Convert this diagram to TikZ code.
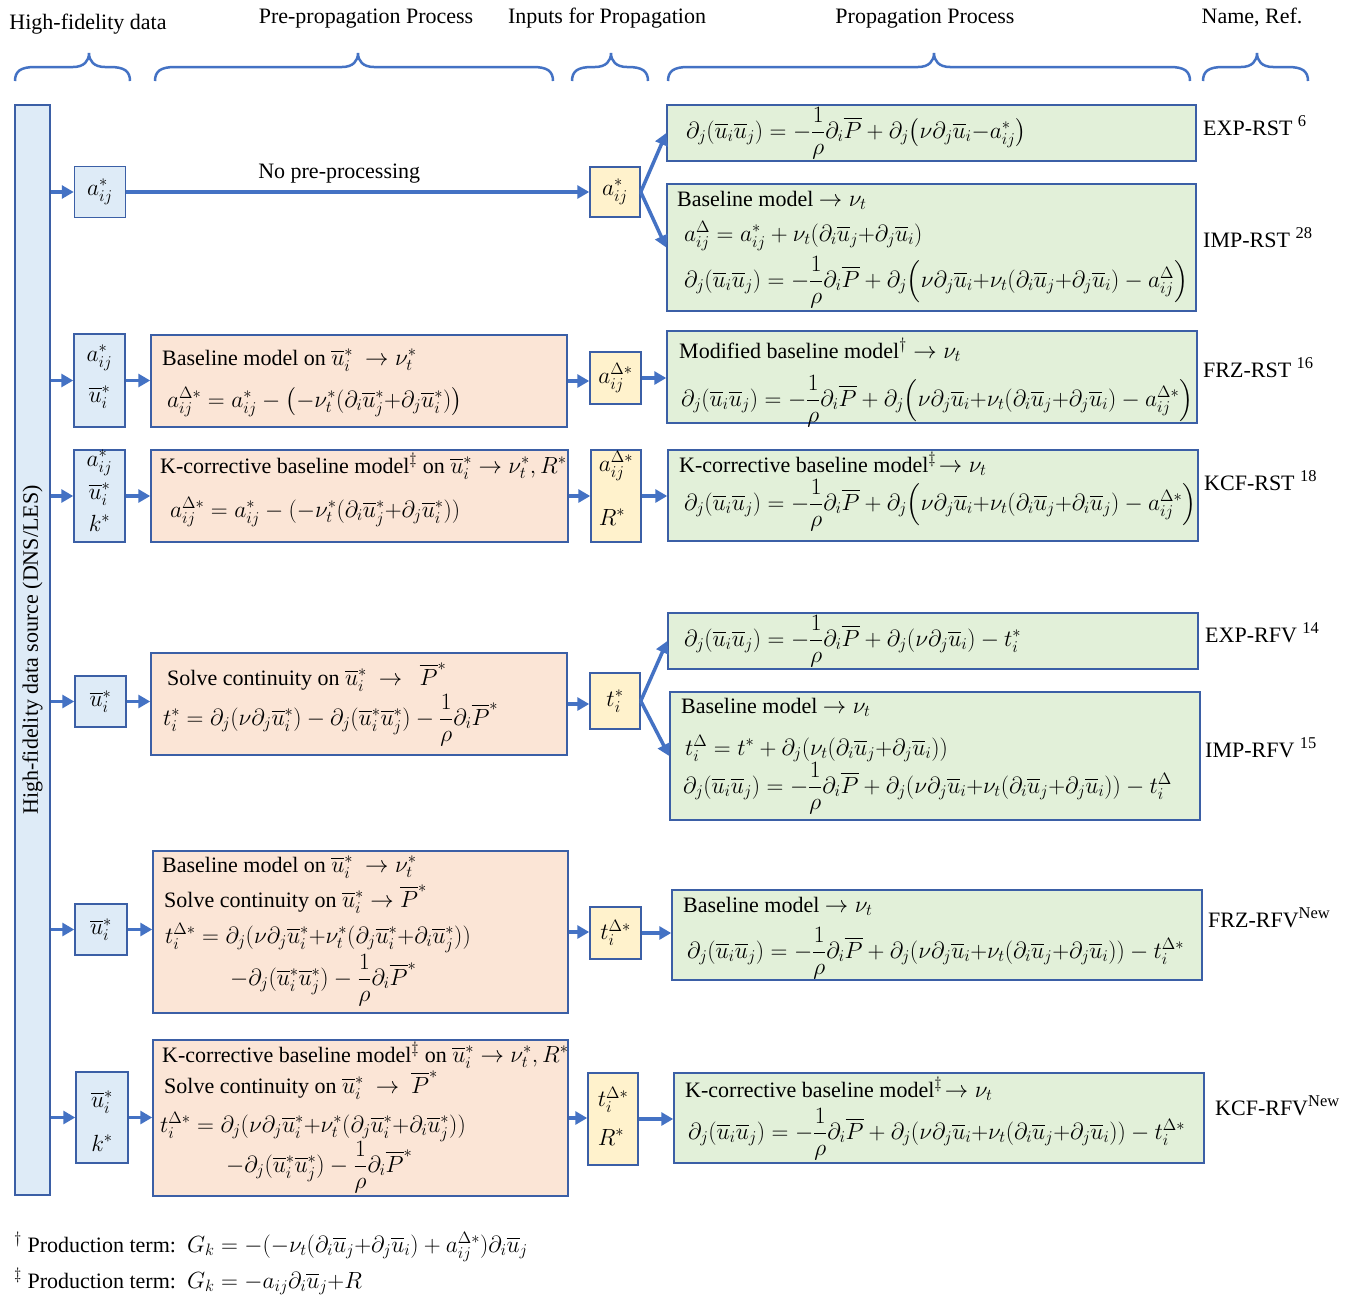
\RequirePackage{fix-cm}
\documentclass[tikz,border=0pt]{standalone}
\usepackage{amsmath,amssymb}
\usepackage[no-math]{fontspec}
\setmainfont{Liberation Serif}
\DeclareMathSizes{22}{23.4}{16.5}{12}
\usetikzlibrary{arrows.meta}
\definecolor{lineblue}{HTML}{4472C4}
\definecolor{edgeblue}{HTML}{3B5FA6}
\definecolor{bluefill}{HTML}{DEEBF7}
\definecolor{orangefill}{HTML}{FBE5D6}
\definecolor{yellowfill}{HTML}{FFF2CC}
\definecolor{greenfill}{HTML}{E2F0D9}
\newcommand{\ubr}{\overline{u}}
\newcommand{\Pbr}{\overline{P}}
\begin{document}
\begin{tikzpicture}[x=1pt, y=-1pt,
	every node/.style={font=\fontsize{22}{26}\selectfont, inner sep=0pt},
	box/.style={draw=edgeblue, line width=1.5pt},
	srcbox/.style={box, fill=bluefill},
	prebox/.style={box, fill=orangefill},
	inbox/.style={box, fill=yellowfill},
	propbox/.style={box, fill=greenfill},
	flow/.style={draw=lineblue, line width=3.5pt, -{Triangle[length=12pt, width=13pt]}},
	bracket/.style={draw=lineblue, line width=2.5pt}]
	\fill[white] (0,0) rectangle (1357,1299);
	\useasboundingbox (0,0) rectangle (1357,1299);
	% column headers and braces
	\node[anchor=base] (h1) at (88,29) {High-fidelity data};
	\node[anchor=base] (h2) at (366,23) {Pre-propagation Process};
	\node[anchor=base] (h3) at (607,23) {Inputs for Propagation};
	\node[anchor=base] (h4) at (925,23) {Propagation Process};
	\node[anchor=base] (h5) at (1252,23) {Name, Ref.};
	\foreach \xa/\xt/\xb in {15/89/130, 155/358/553, 572/611/648, 668/934/1190, 1203/1257/1308}
		\draw[bracket] (\xa,81) .. controls (\xa,71) and (\xa+6,67) .. (\xa+20,67) -- (\xt-16,67) .. controls (\xt-5,67) and (\xt,61) .. (\xt,53) .. controls (\xt,61) and (\xt+5,67) .. (\xt+16,67) -- (\xb-20,67) .. controls (\xb-6,67) and (\xb,71) .. (\xb,81);
	% data source
	\node[srcbox, minimum width=35, minimum height=1090] (src) at (32.5,650) {};
	\node[rotate=90] (srctext) at (src.center) {High-fidelity data source (DNS/LES)};
	% row 1: EXP-RST / IMP-RST
	\node[srcbox, minimum width=51, minimum height=51] (b1) at (100,192) {$a^*_{ij}$};
	\node[inbox, minimum width=50, minimum height=50] (i1) at (615,192) {$a^*_{ij}$};
	\node[propbox, minimum width=529, minimum height=56] (g1) at (931.5,133) {};
	\node[anchor=west] (g1a) at (686,133) {$\partial_j(\ubr_i\ubr_j) = -\dfrac{1}{\rho}\partial_i\Pbr + \partial_j\bigl(\nu\partial_j\ubr_i{-}a^*_{ij}\bigr)$};
	\node[propbox, minimum width=529, minimum height=127] (g2) at (931.5,247.5) {};
	\node[anchor=base west] (g2a) at (677,206) {Baseline model $\rightarrow \nu_t$};
	\node[anchor=base west] (g2b) at (684,241) {$a^\Delta_{ij} = a^*_{ij} + \nu_t(\partial_i\ubr_j{+}\partial_j\ubr_i)$};
	\node[anchor=base west] (g2c) at (684,287) {$\partial_j(\ubr_i\ubr_j) = -\dfrac{1}{\rho}\partial_i\Pbr + \partial_j\Bigl(\nu\partial_j\ubr_i{+}\nu_t(\partial_i\ubr_j{+}\partial_j\ubr_i) - a^\Delta_{ij}\Bigr)$};
	% row 2: FRZ-RST
	\node[srcbox, minimum width=51, minimum height=93] (b2) at (99.5,380.5) {};
	\node (b2a) at (99.5,358) {$a^*_{ij}$};
	\node (b2b) at (99.5,397) {$\ubr^*_i$};
	\node[prebox, minimum width=416, minimum height=92] (o2) at (359,381) {};
	\node[anchor=base west] (o2a) at (162,365) {Baseline model on $\ubr^*_i\ \rightarrow \nu^*_t$};
	\node[anchor=base west] (o2b) at (167,407) {$a^{\Delta*}_{ij} = a^*_{ij} - \bigl(-\nu^*_t(\partial_i\ubr^*_j{+}\partial_j\ubr^*_i)\bigr)$};
	\node[inbox, minimum width=51, minimum height=52] (i2) at (615.5,378) {$a^{\Delta*}_{ij}$};
	\node[propbox, minimum width=530, minimum height=92] (g3) at (932,377) {};
	\node[anchor=base west] (g3a) at (679,358) {Modified baseline model$^\dagger \rightarrow \nu_t$};
	\node[anchor=base west] (g3b) at (681,406) {$\partial_j(\ubr_i\ubr_j) = -\dfrac{1}{\rho}\partial_i\Pbr + \partial_j\Bigl(\nu\partial_j\ubr_i{+}\nu_t(\partial_i\ubr_j{+}\partial_j\ubr_i) - a^{\Delta*}_{ij}\Bigr)$};
	% row 3: KCF-RST
	\node[srcbox, minimum width=51, minimum height=92] (b3) at (99.5,496) {};
	\node (b3a) at (99.5,463) {$a^*_{ij}$};
	\node (b3b) at (99.5,494) {$\ubr^*_i$};
	\node (b3c) at (99.5,523) {$k^*$};
	\node[prebox, minimum width=417, minimum height=92] (o3) at (359.5,496) {};
	\node[anchor=base west] (o3a) at (160,473) {K-corrective baseline model$^\ddagger$ on $\ubr^*_i \rightarrow \nu^*_t, R^*$};
	\node[anchor=base west] (o3b) at (170,517) {$a^{\Delta*}_{ij} = a^*_{ij} - (-\nu^*_t(\partial_i\ubr^*_j{+}\partial_j\ubr^*_i))$};
	\node[inbox, minimum width=50, minimum height=92] (i3) at (616,496) {};
	\node (i3a) at (616,466) {$a^{\Delta*}_{ij}$};
	\node (i3b) at (612,517) {$R^*$};
	\node[propbox, minimum width=530, minimum height=91] (g4) at (933,495.5) {};
	\node[anchor=base west] (g4a) at (679,472) {K-corrective baseline model$^\ddagger\!\rightarrow \nu_t$};
	\node[anchor=base west] (g4b) at (684,510) {$\partial_j(\ubr_i\ubr_j) = -\dfrac{1}{\rho}\partial_i\Pbr + \partial_j\Bigl(\nu\partial_j\ubr_i{+}\nu_t(\partial_i\ubr_j{+}\partial_i\ubr_j) - a^{\Delta*}_{ij}\Bigr)$};
	% row 4: EXP-RFV / IMP-RFV
	\node[srcbox, minimum width=51, minimum height=51] (b4) at (100.5,701.5) {$\ubr^*_i$};
	\node[prebox, minimum width=416, minimum height=102] (o4) at (359,704) {};
	\node[anchor=base west] (o4a) at (167,685) {Solve continuity on $\ubr^*_i\ \rightarrow\ \ \Pbr^*$};
	\node[anchor=base west] (o4b) at (163,725) {$t^*_i = \partial_j(\nu\partial_j\ubr^*_i) - \partial_j(\ubr^*_i\ubr^*_j) - \dfrac{1}{\rho}\partial_i\Pbr^*$};
	\node[inbox, minimum width=50, minimum height=56] (i4) at (615,701) {$t^*_i$};
	\node[propbox, minimum width=530, minimum height=56] (g5) at (933,641) {};
	\node[anchor=west] (g5a) at (684,641) {$\partial_j(\ubr_i\ubr_j) = -\dfrac{1}{\rho}\partial_i\Pbr + \partial_j(\nu\partial_j\ubr_i) - t^*_i$};
	\node[propbox, minimum width=530, minimum height=128] (g6) at (935,756) {};
	\node[anchor=base west] (g6a) at (681,713) {Baseline model $\rightarrow \nu_t$};
	\node[anchor=base west] (g6b) at (685,755) {$t^\Delta_i = t^* + \partial_j(\nu_t(\partial_i\ubr_j{+}\partial_j\ubr_i))$};
	\node[anchor=base west] (g6c) at (683,793) {$\partial_j(\ubr_i\ubr_j) = -\dfrac{1}{\rho}\partial_i\Pbr + \partial_j(\nu\partial_j\ubr_i{+}\nu_t(\partial_i\ubr_j{+}\partial_j\ubr_i)) - t^\Delta_i$};
	% row 5: FRZ-RFV
	\node[srcbox, minimum width=52, minimum height=51] (b5) at (101,929.5) {$\ubr^*_i$};
	\node[prebox, minimum width=415, minimum height=162] (o5) at (360.5,932) {};
	\node[anchor=base west] (o5a) at (162,872) {Baseline model on $\ubr^*_i\ \rightarrow \nu^*_t$};
	\node[anchor=base west] (o5b) at (164,907) {Solve continuity on $\ubr^*_i \rightarrow \Pbr^*$};
	\node[anchor=base west] (o5c) at (165,943) {$t^{\Delta*}_i = \partial_j(\nu\partial_j\ubr^*_i{+}\nu^*_t(\partial_j\ubr^*_i{+}\partial_i\ubr^*_j))$};
	\node[anchor=base west] (o5d) at (230,985) {$-\partial_j(\ubr^*_i\ubr^*_j) - \dfrac{1}{\rho}\partial_i\Pbr^*$};
	\node[inbox, minimum width=51, minimum height=52] (i5) at (615.5,933) {$t^{\Delta*}_i$};
	\node[propbox, minimum width=530, minimum height=90] (g7) at (937,935) {};
	\node[anchor=base west] (g7a) at (683,912) {Baseline model $\rightarrow \nu_t$};
	\node[anchor=base west] (g7b) at (687,958) {$\partial_j(\ubr_i\ubr_j) = -\dfrac{1}{\rho}\partial_i\Pbr + \partial_j(\nu\partial_j\ubr_i{+}\nu_t(\partial_i\ubr_j{+}\partial_j\ubr_i)) - t^{\Delta*}_i$};
	% row 6: KCF-RFV
	\node[srcbox, minimum width=52, minimum height=91] (b6) at (102,1117.5) {};
	\node (b6a) at (102,1102) {$\ubr^*_i$};
	\node (b6b) at (102,1143) {$k^*$};
	\node[prebox, minimum width=415, minimum height=156] (o6) at (360.5,1118) {};
	\node[anchor=base west] (o6a) at (162,1062) {K-corrective baseline model$^\ddagger$ on $\ubr^*_i \rightarrow \nu^*_t, R^*$};
	\node[anchor=base west] (o6b) at (164,1093) {Solve continuity on $\ubr^*_i\ \rightarrow\ \Pbr^*$};
	\node[anchor=base west] (o6c) at (160,1132) {$t^{\Delta*}_i = \partial_j(\nu\partial_j\ubr^*_i{+}\nu^*_t(\partial_j\ubr^*_i{+}\partial_i\ubr^*_j))$};
	\node[anchor=base west] (o6d) at (226,1172) {$-\partial_j(\ubr^*_i\ubr^*_j) - \dfrac{1}{\rho}\partial_i\Pbr^*$};
	\node[inbox, minimum width=50, minimum height=92] (i6) at (613,1119) {};
	\node (i6a) at (613,1100) {$t^{\Delta*}_i$};
	\node (i6b) at (611,1137) {$R^*$};
	\node[propbox, minimum width=530, minimum height=90] (g8) at (939,1118) {};
	\node[anchor=base west] (g8a) at (685,1097) {K-corrective baseline model$^\ddagger\!\rightarrow \nu_t$};
	\node[anchor=base west] (g8b) at (688,1139) {$\partial_j(\ubr_i\ubr_j) = -\dfrac{1}{\rho}\partial_i\Pbr + \partial_j(\nu\partial_j\ubr_i{+}\nu_t(\partial_i\ubr_j{+}\partial_j\ubr_i)) - t^{\Delta*}_i$};
	% names and references
	\node[anchor=base west] (n1) at (1203,135) {EXP-RST \textsuperscript{6}};
	\node[anchor=base west] (n2) at (1203,247) {IMP-RST \textsuperscript{28}};
	\node[anchor=base west] (n3) at (1203,377) {FRZ-RST \textsuperscript{16}};
	\node[anchor=base west] (n4) at (1204,490) {KCF-RST \textsuperscript{18}};
	\node[anchor=base west] (n5) at (1205,642) {EXP-RFV \textsuperscript{14}};
	\node[anchor=base west] (n6) at (1205,757) {IMP-RFV \textsuperscript{15}};
	\node[anchor=base west] (n7) at (1208,927) {FRZ-RFV\textsuperscript{New}};
	\node[anchor=base west] (n8) at (1215,1115) {KCF-RFV\textsuperscript{New}};
	% connectors
	\foreach \b in {b1,b2,b3,b4,b5,b6}
		\draw[flow] (src.east |- \b.west) -- (\b.west);
	\draw[flow] (b1.east) -- node[pos=0.46, anchor=base, yshift=14pt] (nopre) {No pre-processing} (i1.west);
	\draw[flow] (i1.east) -- (g1.west);
	\draw[flow] (i1.east) -- (g2.west);
	\draw[flow] (i4.east) -- (g5.west);
	\draw[flow] (i4.east) -- (g6.west);
	\foreach \a/\b in {b2/o2, o2/i2, i2/g3, b3/o3, o3/i3, i3/g4, b4/o4, o4/i4, b5/o5, o5/i5, i5/g7, b6/o6, o6/i6, i6/g8}
		\draw[flow] (\a.east) -- (\a.east -| \b.west);
	% footnotes
	\node[anchor=base west] (fn1) at (14,1252) {$^\dagger$ Production term:\ \ $G_k = -(-\nu_t(\partial_i\ubr_j{+}\partial_j\ubr_i) + a^{\Delta*}_{ij})\partial_i\ubr_j$};
	\node[anchor=base west] (fn2) at (14,1288) {$^\ddagger$ Production term:\ \ $G_k = -a_{ij}\partial_i\ubr_j{+}R$};
\end{tikzpicture}
\end{document}
